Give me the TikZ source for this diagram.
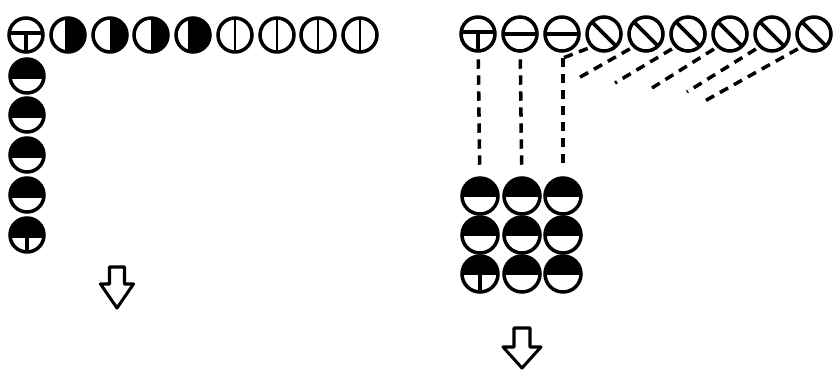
\documentclass[tikz,border=0pt]{standalone}
\begin{document}
\begin{tikzpicture}[x=0.3mm,y=-0.3mm,
  ring/.style={draw,circle,line width=3pt,minimum size=10.2mm,inner sep=0pt},
  big/.style={ring,minimum size=10.8mm},
  tee/.style={path picture={\draw[line width=3pt] ([yshift=0.6mm]path picture bounding box.west)--([yshift=0.6mm]path picture bounding box.east) ([yshift=0.6mm]path picture bounding box.center)--(path picture bounding box.south);}},
  hbar/.style={path picture={\draw[line width=3pt] (path picture bounding box.west)--(path picture bounding box.east);}},
  slash/.style={path picture={\draw[line width=3.2pt] (path picture bounding box.north west)--(path picture bounding box.south east);}},
  vbar/.style={path picture={\draw[line width=2pt] (path picture bounding box.north)--(path picture bounding box.south);}},
  rblack/.style={path picture={\fill ([xshift=#1]path picture bounding box.north) rectangle (path picture bounding box.south east);}},
  rblack/.default=0mm,
  dblack/.style={path picture={\fill[shift={(path picture bounding box.center)},rotate=35] (-0.9mm,-8mm) rectangle (8mm,8mm);}},
  tblack/.style={path picture={\fill ([yshift=#1]path picture bounding box.west) rectangle (path picture bounding box.north east);}},
  tblack/.default=-0.9mm,
  tstem/.style={path picture={\fill ([yshift=#1]path picture bounding box.west) rectangle (path picture bounding box.north east); \draw[line width=2.6pt] ([yshift=#1]path picture bounding box.center)--(path picture bounding box.south);}},
  dashln/.style={line width=3pt,dash pattern=on 2.8mm off 2mm,shorten <=2mm,shorten >=2.5mm},
  blk/.style={line width=2.6pt,line join=round}]
\useasboundingbox (0,0) rectangle (833,370);
% left: row and column
\node[ring,tee] (L1) at (26,35) {}; \node[ring,dblack] (L2) at (68,35) {}; \node[ring,rblack] (L3) at (110,35) {};
\node[ring,rblack] (L4) at (151,35) {}; \node[ring,rblack=-1.6mm] (L5) at (193,35) {};
\node[ring,vbar] (L6) at (235,35) {}; \node[ring,vbar] (L7) at (277,35) {}; \node[ring,vbar] (L8) at (318,35) {}; \node[ring,vbar] (L9) at (360,35) {};
\node[ring,tblack] (C1) at (27,76) {}; \node[ring,tblack] (C2) at (27,115) {}; \node[ring,tblack] (C3) at (27,155) {};
\node[ring,tblack] (C4) at (27,195) {}; \node[ring,tstem=-0.9mm] (C5) at (27,235) {};
\coordinate (A1) at (117,267);
\draw[blk] (A1) ++(-7.5,0) -- ++(0,17) -- ++(-9,0) -- ++(16.5,24) -- ++(16.5,-24) -- ++(-9,0) -- ++(0,-17) -- cycle;
% right: row, grid and projections
\node[ring,tee] (R1) at (478,34) {}; \node[ring,hbar] (R2) at (520,34) {}; \node[ring,hbar] (R3) at (562,34) {};
\node[ring,slash] (R4) at (604,34) {}; \node[ring,slash] (R5) at (646,34) {}; \node[ring,slash] (R6) at (688,34) {};
\node[ring,slash] (R7) at (730,34) {}; \node[ring,slash] (R8) at (772,34) {}; \node[ring,slash] (R9) at (814,34) {};
\node[big,tblack=-0.3mm] (G11) at (480,196) {}; \node[big,tblack=-0.3mm] (G12) at (522,196) {}; \node[big,tblack=-0.3mm] (G13) at (563,196) {};
\node[big,tblack=-0.3mm] (G21) at (480,235) {}; \node[big,tblack=-0.3mm] (G22) at (522,235) {}; \node[big,tblack=-0.3mm] (G23) at (563,235) {};
\node[big,tstem=-0.3mm] (G31) at (480,274) {}; \node[big,tblack=-0.3mm] (G32) at (522,274) {}; \node[big,tblack=-0.3mm] (G33) at (563,274) {};
\coordinate (E4) at (563,58); \coordinate (E5) at (575,80); \coordinate (E6) at (615,83);
\coordinate (E7) at (652,88); \coordinate (E8) at (687,92); \coordinate (E9) at (703,102);
\draw[dashln] (R1) -- (G11); \draw[dashln] (R2) -- (G12); \draw[dashln,shorten <=0pt] (E4) -- (G13);
\draw[dashln,shorten <=1mm,shorten >=0pt] (R4.south west) -- (E4);
\draw[dashln,shorten <=1mm,shorten >=0pt] (R5.south west) -- (E5); \draw[dashln,shorten <=1mm,shorten >=0pt] (R6.south west) -- (E6);
\draw[dashln,shorten <=1mm,shorten >=0pt] (R7.south west) -- (E7); \draw[dashln,shorten <=1mm,shorten >=0pt] (R8.south west) -- (E8);
\draw[dashln,shorten <=1mm,shorten >=0pt] (R9.south west) -- (E9);
\coordinate (A2) at (522,328);
\draw[blk] (A2) ++(-8,0) -- ++(0,19) -- ++(-11,0) -- ++(19,21) -- ++(19,-21) -- ++(-11,0) -- ++(0,-19) -- cycle;
\end{tikzpicture}
\end{document}
